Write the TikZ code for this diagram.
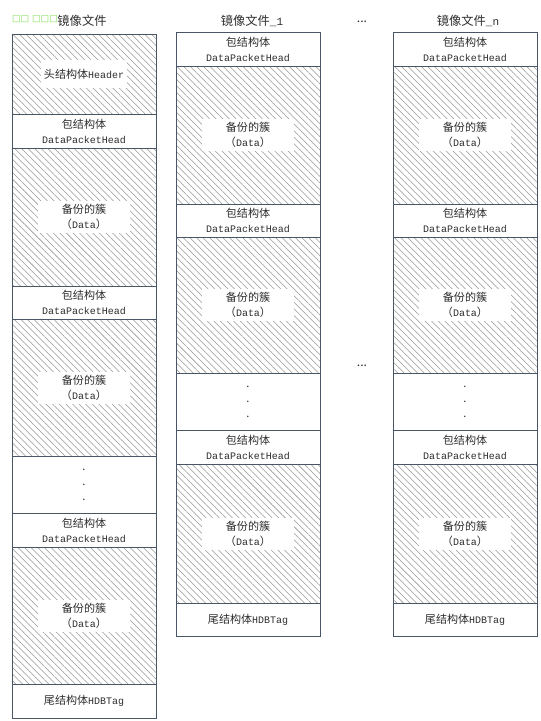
\documentclass[tikz,border=0pt]{standalone}
\usepackage{fontspec}
\usepackage{tikz}
\usetikzlibrary{patterns.meta}
\setmainfont{Noto Sans CJK SC}
\setmonofont[Scale=0.9]{Liberation Mono}
\newfontfamily\boxglyphs{DejaVu Sans}
\definecolor{boxline}{RGB}{72,86,102}
\definecolor{hatchgray}{RGB}{150,150,150}
\definecolor{txtgray}{RGB}{45,45,45}
\definecolor{markgreen}{RGB}{130,220,80}

\tikzset{
  seg/.style={draw=boxline, line width=0.7pt},
  hatch/.style={pattern={Lines[angle=-45,distance=3.5pt,line width=0.4pt]}, pattern color=hatchgray},
  txt/.style={align=center, text=txtgray, inner sep=0pt, font=\fontsize{8.3}{11.25}\selectfont},
  lbl/.style={txt, fill=white, minimum width=69pt, minimum height=24pt},
  hdlbl/.style={txt, fill=white, minimum width=65pt, minimum height=21pt},
  title/.style={text=txtgray, inner sep=0pt, font=\fontsize{9.2}{11}\selectfont}
}

\begin{document}
\begin{tikzpicture}[x=0.75pt, y=-0.75pt]
      \useasboundingbox (0,0) rectangle (540,721);
      % titles
      \node[text=markgreen, inner sep=0pt, font=\boxglyphs\fontsize{6.8}{8}\selectfont] (mark) at (35,19) {□□ □□□};
      \node[title] (t0) at (82,21) {镜像文件};
      \node[title] (t1) at (252,21) {镜像文件\texttt{\_1}};
      \node[title] (tdots) at (362,22) {...};
      \node[title] (t2) at (468,21) {镜像文件\texttt{\_n}};
      \node[title] (mdots) at (362,366) {...};

      % image file
      \draw[seg, hatch] (12,34) rectangle (156,114);
      \draw[seg] (12,114) rectangle (156,148);
      \draw[seg, hatch] (12,148) rectangle (156,286);
      \draw[seg] (12,286) rectangle (156,319);
      \draw[seg, hatch] (12,319) rectangle (156,456);
      \draw[seg] (12,456) rectangle (156,513);
      \draw[seg] (12,513) rectangle (156,547);
      \draw[seg, hatch] (12,547) rectangle (156,684);
      \draw[seg] (12,684) rectangle (156,718);
      \node[hdlbl] (a0) at (84,74) {头结构体\texttt{Header}};
      \node[txt] (a1) at (84,131) {包结构体\\\texttt{DataPacketHead}};
      \node[lbl] (a2) at (84,217) {备份的簇\\（\texttt{Data}）};
      \node[txt] (a3) at (84,302.5) {包结构体\\\texttt{DataPacketHead}};
      \node[lbl] (a4) at (84,387.5) {备份的簇\\（\texttt{Data}）};
      \node[txt] (a5) at (84,470) {.};
      \node[txt] (a6) at (84,485) {.};
      \node[txt] (a7) at (84,500) {.};
      \node[txt] (a8) at (84,530) {包结构体\\\texttt{DataPacketHead}};
      \node[lbl] (a9) at (84,615.5) {备份的簇\\（\texttt{Data}）};
      \node[txt] (a10) at (84,701) {尾结构体\texttt{HDBTag}};

      % image file _1
      \draw[seg] (176,32) rectangle (320,66);
      \draw[seg, hatch] (176,66) rectangle (320,204);
      \draw[seg] (176,204) rectangle (320,237);
      \draw[seg, hatch] (176,237) rectangle (320,373);
      \draw[seg] (176,373) rectangle (320,430);
      \draw[seg] (176,430) rectangle (320,464);
      \draw[seg, hatch] (176,464) rectangle (320,603);
      \draw[seg] (176,603) rectangle (320,636);
      \node[txt] (b1) at (248,49) {包结构体\\\texttt{DataPacketHead}};
      \node[lbl] (b2) at (248,135) {备份的簇\\（\texttt{Data}）};
      \node[txt] (b3) at (248,220.5) {包结构体\\\texttt{DataPacketHead}};
      \node[lbl] (b4) at (248,305) {备份的簇\\（\texttt{Data}）};
      \node[txt] (b5) at (248,387) {.};
      \node[txt] (b6) at (248,402) {.};
      \node[txt] (b7) at (248,417) {.};
      \node[txt] (b8) at (248,447) {包结构体\\\texttt{DataPacketHead}};
      \node[lbl] (b9) at (248,533.5) {备份的簇\\（\texttt{Data}）};
      \node[txt] (b10) at (248,619.5) {尾结构体\texttt{HDBTag}};

      % image file _n
      \draw[seg] (393,32) rectangle (537,66);
      \draw[seg, hatch] (393,66) rectangle (537,204);
      \draw[seg] (393,204) rectangle (537,237);
      \draw[seg, hatch] (393,237) rectangle (537,373);
      \draw[seg] (393,373) rectangle (537,430);
      \draw[seg] (393,430) rectangle (537,464);
      \draw[seg, hatch] (393,464) rectangle (537,603);
      \draw[seg] (393,603) rectangle (537,636);
      \node[txt] (c1) at (465,49) {包结构体\\\texttt{DataPacketHead}};
      \node[lbl] (c2) at (465,135) {备份的簇\\（\texttt{Data}）};
      \node[txt] (c3) at (465,220.5) {包结构体\\\texttt{DataPacketHead}};
      \node[lbl] (c4) at (465,305) {备份的簇\\（\texttt{Data}）};
      \node[txt] (c5) at (465,387) {.};
      \node[txt] (c6) at (465,402) {.};
      \node[txt] (c7) at (465,417) {.};
      \node[txt] (c8) at (465,447) {包结构体\\\texttt{DataPacketHead}};
      \node[lbl] (c9) at (465,533.5) {备份的簇\\（\texttt{Data}）};
      \node[txt] (c10) at (465,619.5) {尾结构体\texttt{HDBTag}};
    \end{tikzpicture}
\end{document}
